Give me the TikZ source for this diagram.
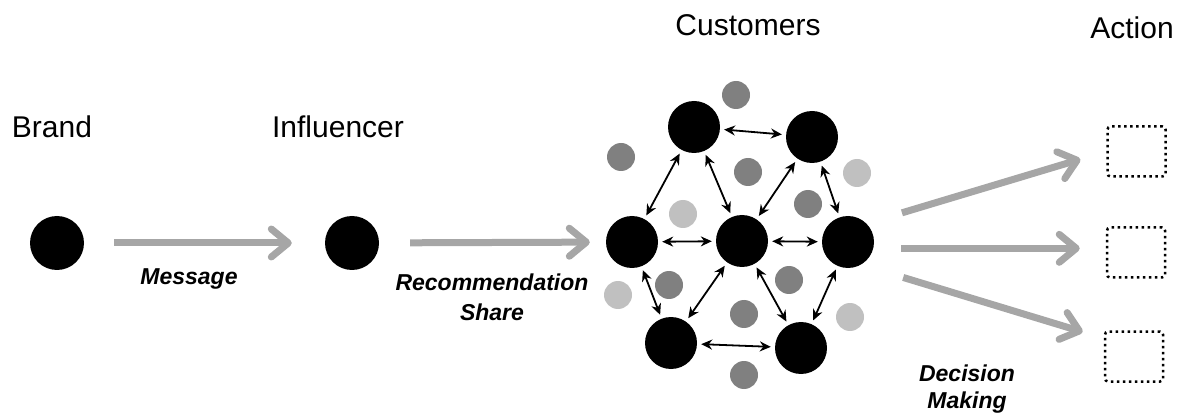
\documentclass[tikz,border=0pt]{standalone}
\usepackage{fontspec}
\setmainfont{Liberation Sans}
\usetikzlibrary{arrows.meta}
\definecolor{flowgray}{HTML}{A6A6A6}
\definecolor{darkspeck}{HTML}{808080}
\definecolor{lightspeck}{HTML}{C0C0C0}
\newcommand{\lblfont}{\fontsize{23}{30}\selectfont\bfseries\itshape}
\newcommand{\declblfont}{\fontsize{23}{26.6}\selectfont\bfseries\itshape}

\begin{document}
\begin{tikzpicture}[x=1pt, y=-1pt,
  heading/.style={anchor=base, inner sep=0pt, font=\fontsize{30}{36}\selectfont},
  lbl/.style={anchor=base, inner sep=0pt, align=center, font=\lblfont},
  bigdot/.style={circle, fill=black, inner sep=0pt, minimum size=52pt},
  speck/.style={circle, fill=#1, inner sep=0pt, minimum size=28pt},
  flowarrow/.style={draw=flowgray, line width=7pt, -{Straight Barb[length=17pt,width=28pt,round]}},
  rel/.style={line width=1.8pt, {Stealth[length=11pt,width=10pt]}-{Stealth[length=11pt,width=10pt]}, shorten <=4pt, shorten >=4pt},
  actbox/.style={draw, line width=2.5pt, dash pattern=on 2.5pt off 3.5pt, rounded corners=3pt, minimum width=58pt, minimum height=50pt, inner sep=0pt}]
\useasboundingbox (0,0) rectangle (1184,414);

\node[heading] (brandlbl) at (52,138) {Brand};
\node[heading] (infllbl) at (338,138) {Influencer};
\node[heading] (custlbl) at (748,36) {Customers};
\node[heading] (actlbl) at (1132,39) {Action};

\node[bigdot, minimum size=54pt] (brand) at (57,243) {};
\node[bigdot, minimum size=54pt] (infl) at (352,243) {};

\foreach \n/\x/\y/\c in {s1/736/95/darkspeck, s2/621/157/darkspeck, s3/748/172/darkspeck,
  s4/808/204/darkspeck, s5/669/285/darkspeck, s6/789/280/darkspeck, s7/744/314/darkspeck,
  s8/744/375/darkspeck, s9/857/173/lightspeck, s10/683/214/lightspeck, s11/618/295/lightspeck,
  s12/850/317/lightspeck}
  \node[speck=\c] (\n) at (\x,\y) {};

\foreach \n/\x/\y in {ca/694/127, cb/812/137, cc/632/242, cd/742/241, ce/848/242, cf/671/343, cg/801/348}
  \node[bigdot] (\n) at (\x,\y) {};

\foreach \a/\b in {ca/cb, ca/cc, ca/cd, cb/cd, cb/ce, cc/cd, cd/ce, cc/cf, cd/cf, cd/cg, ce/cg, cf/cg}
  \draw[rel] (\a) -- (\b);

\node[actbox] (act1) at (1136.5,151.5) {};
\node[actbox] (act2) at (1136,252.5) {};
\node[actbox] (act3) at (1134,356.5) {};

\draw[flowarrow, shorten <=30pt, shorten >=33pt] (brand) -- (infl);
\draw[flowarrow, shorten <=31pt, shorten >=16pt] (infl) -- (cc);
\draw[flowarrow, shorten <=37pt, shorten >=27pt] (ce.45) -- (act1.west);
\draw[flowarrow, shorten <=28pt, shorten >=26pt] (ce.-14) -- (ce.-14 -| act2.west);
\draw[flowarrow, shorten <=44pt, shorten >=22pt] (ce.-60) -- (act3.149);

\node[lbl] (msg) at (189,285) {Message};
\node[lbl] (rec) at (492,320) {Recommendation\\Share};
\node[lbl, font=\declblfont] (dec) at (967,408) {Decision\\Making};
\end{tikzpicture}
\end{document}
